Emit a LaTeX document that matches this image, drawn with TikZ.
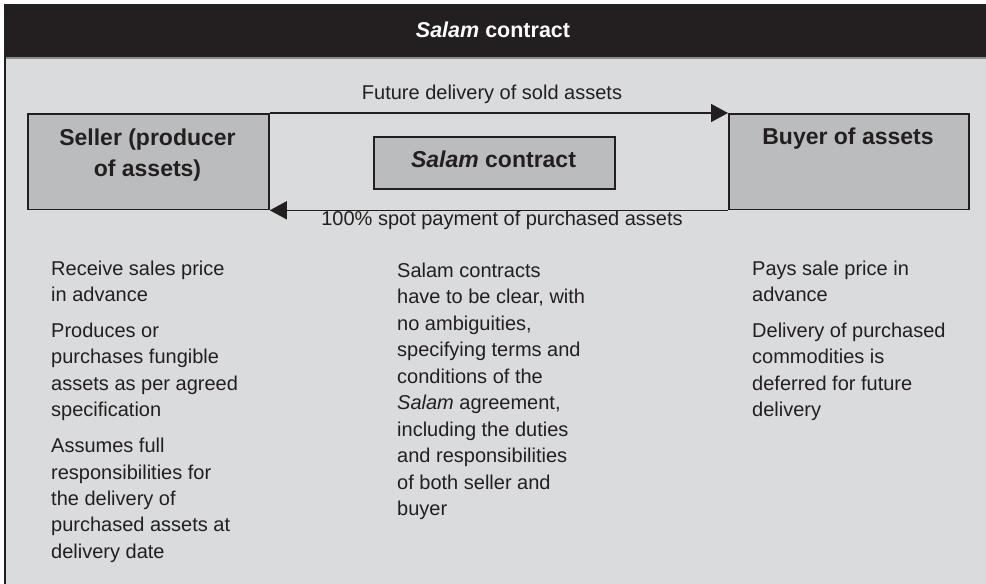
\documentclass[tikz,border=0pt]{standalone}
\usepackage{fontspec}
\setmainfont{Liberation Sans}
\usetikzlibrary{arrows.meta}
\definecolor{dark}{HTML}{231F20}
\definecolor{bodygray}{HTML}{DADBDD}
\definecolor{boxgray}{HTML}{BBBCBE}
\definecolor{rulegray}{HTML}{8A8B8D}
\begin{document}
\begin{tikzpicture}[x=1pt,y=-1pt,
  box/.style={draw=dark,line width=1.8pt,fill=boxgray,inner sep=0pt,anchor=north west},
  lbl/.style={font=\fontsize{23}{31}\selectfont\bfseries,text=dark,align=center,inner sep=0pt,anchor=base},
  txt/.style={font=\fontsize{20}{26.3}\selectfont,text=dark,align=left,inner sep=0pt,anchor=base west},
  flowlbl/.style={font=\fontsize{20}{24}\selectfont,text=dark,inner sep=0pt,anchor=base},
  flow/.style={draw=dark,line width=1.6pt,-{Triangle[length=17pt,width=18pt]}}]
\useasboundingbox (0,0) rectangle (986,584);
\fill[white] (0,0) rectangle (986,584);
\fill[bodygray] (4,57) rectangle (986,584);
\fill[dark] (4,4) rectangle (986,57);
\draw[rulegray,line width=1.5pt] (4,58) -- (986,58);
\draw[dark,line width=2pt] (5,57) -- (5,584);
\node[font=\fontsize{21.5}{26}\selectfont\bfseries,text=white,inner sep=0pt,anchor=base] (title) at (493,37) {\textit{Salam} contract};
% boxes
\node[box,minimum width=241pt,minimum height=95.5pt] (seller) at (27,113) {};
\node[box,minimum width=240pt,minimum height=95.5pt] (buyer) at (728,113) {};
\node[box,minimum width=241pt,minimum height=52pt] (contract) at (373,136) {};
% (base anchor of a multi-line node = baseline of its last line)
\node[lbl] (sellerlbl) at (147.5,176) {Seller (producer\\of assets)};
\node[lbl] (buyerlbl) at (848,144) {Buyer of assets};
\node[lbl] (contractlbl) at (493.5,167) {\textit{Salam} contract};
% flows
\draw[flow] (seller.north east) -- (buyer.north west);
\draw[flow] (buyer.south west) -- (seller.south east);
\node[flowlbl] (futlbl) at (492,99) {Future delivery of sold assets};
\node[flowlbl] (paylbl) at (502,225) {100\% spot payment of purchased assets};
% columns
\node[txt] (lefttxt) at (51,558) {Receive sales price\\in advance\\[10pt]Produces or\\purchases fungible\\assets as per agreed\\specification\\[10pt]Assumes full\\responsibilities for\\the delivery of\\purchased assets at\\delivery date};
\node[txt,font=\fontsize{20}{26.5}\selectfont] (midtxt) at (397,515.5) {Salam contracts\\have to be clear, with\\no ambiguities,\\specifying terms and\\conditions of the\\\textit{Salam} agreement,\\including the duties\\and responsibilities\\of both seller and\\buyer};
\node[txt] (righttxt) at (752,416.5) {Pays sale price in\\advance\\[10pt]Delivery of purchased\\commodities is\\deferred for future\\delivery};
\end{tikzpicture}
\end{document}
